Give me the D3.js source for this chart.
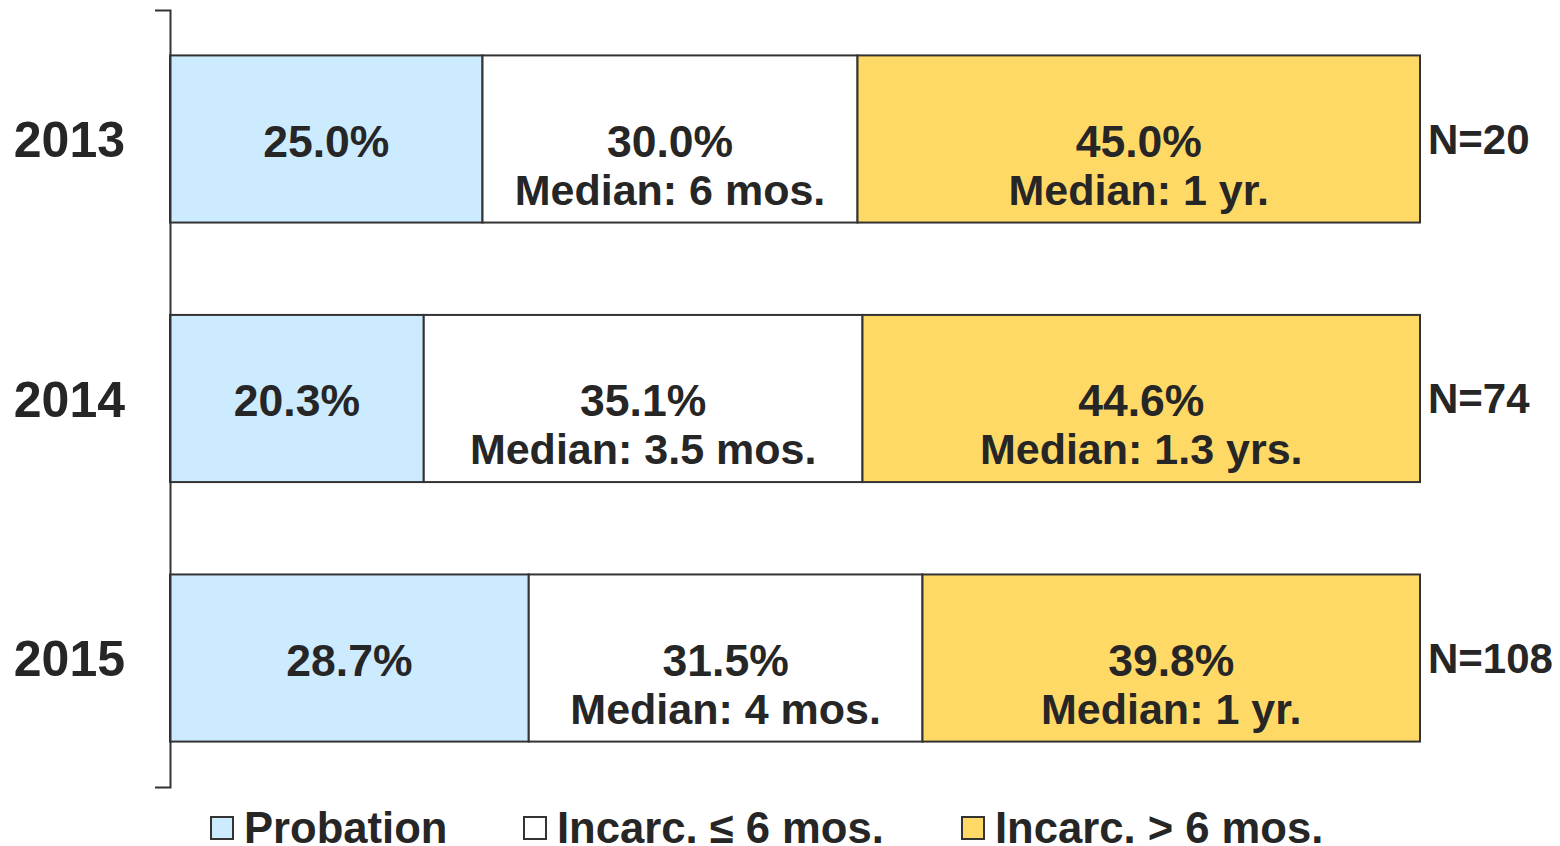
<!DOCTYPE html>
<html>
<head>
<meta charset="utf-8">
<script src="https://cdn.jsdelivr.net/npm/d3@7"></script>
<style>
  body { margin: 0; background: #fff; }
  text { font-family: "Liberation Sans", Arial, sans-serif; font-weight: bold; fill: #262626; }
</style>
</head>
<body>
<div class="canvas"></div>
<script>
// data
const years = ['2013', '2014', '2015'];
const probation = [25.0, 20.3, 28.7];
const incarcShort = [30.0, 35.1, 31.5];
const incarcLong = [45.0, 44.6, 39.8];
const medianShort = ['Median: 6 mos.', 'Median: 3.5 mos.', 'Median: 4 mos.'];
const medianLong = ['Median: 1 yr.', 'Median: 1.3 yrs.', 'Median: 1 yr.'];
const counts = ['N=20', 'N=74', 'N=108'];
const seriesNames = ['Probation', 'Incarc. \u2264 6 mos.', 'Incarc. > 6 mos.'];
const colors = ['#cdebff', '#ffffff', '#ffd966'];

const svg = d3.select('.canvas').append('svg')
  .attr('width', 1560)
  .attr('height', 846);

const x = d3.scaleLinear().domain([0, 100]).range([170, 1420]);
const y = d3.scaleBand().domain(years).range([10, 787])
  .paddingInner(0.356).paddingOuter(0.175);

// build stacked rows
const rows = years.map((yr, i) => ({
  year: yr,
  parts: [
    { v: probation[i], label: probation[i].toFixed(1) + '%', median: null },
    { v: incarcShort[i], label: incarcShort[i].toFixed(1) + '%', median: medianShort[i] },
    { v: incarcLong[i], label: incarcLong[i].toFixed(1) + '%', median: medianLong[i] }
  ]
}));
rows.forEach(r => {
  let acc = 0;
  r.parts.forEach((p, k) => { p.x0 = acc; acc += p.v; p.x1 = acc; p.k = k; });
});

const row = svg.selectAll('g.row').data(rows).enter().append('g')
  .attr('class', 'row')
  .attr('transform', d => `translate(0,${y(d.year)})`);

const seg = row.selectAll('g.seg').data(d => d.parts).enter().append('g').attr('class', 'seg');

seg.append('rect')
  .attr('x', d => x(d.x0))
  .attr('width', d => x(d.x1) - x(d.x0))
  .attr('y', 0)
  .attr('height', y.bandwidth())
  .attr('fill', d => colors[d.k])
  .attr('stroke', '#333')
  .attr('stroke-width', 2);

const mid = y.bandwidth() / 2;

seg.append('text')
  .attr('x', d => (x(d.x0) + x(d.x1)) / 2)
  .attr('y', mid + 18)
  .attr('text-anchor', 'middle')
  .attr('font-size', 44.5)
  .text(d => d.label);

seg.filter(d => d.median).append('text')
  .attr('x', d => (x(d.x0) + x(d.x1)) / 2)
  .attr('y', mid + 66)
  .attr('text-anchor', 'middle')
  .attr('font-size', 43)
  .text(d => d.median);

row.append('text')
  .attr('x', x(100) + 8)
  .attr('y', mid + 15)
  .attr('font-size', 42)
  .text((d, i) => counts[i]);

// left axis: only the outer ticks are drawn
const axis = svg.append('g')
  .attr('transform', 'translate(170,0)')
  .call(d3.axisLeft(y).tickSizeInner(0).tickSizeOuter(15).tickPadding(45));
axis.select('.domain').attr('stroke', '#333').attr('stroke-width', 2);
axis.selectAll('.tick text')
  .attr('font-size', 50)
  .attr('font-family', '"Liberation Sans", Arial, sans-serif')
  .attr('font-weight', 'bold')
  .attr('fill', '#262626')
  .attr('dy', '0.36em');

// legend
const legendX = [211, 524, 962];
const legend = svg.selectAll('g.legend').data(seriesNames).enter().append('g')
  .attr('class', 'legend')
  .attr('transform', (d, i) => `translate(${legendX[i]},817)`);
legend.append('rect')
  .attr('width', 22).attr('height', 22)
  .attr('fill', (d, i) => colors[i])
  .attr('stroke', '#333').attr('stroke-width', 2);
legend.append('text')
  .attr('x', 33).attr('y', 26)
  .attr('font-size', 43.6)
  .text(d => d);
</script>
</body>
</html>
